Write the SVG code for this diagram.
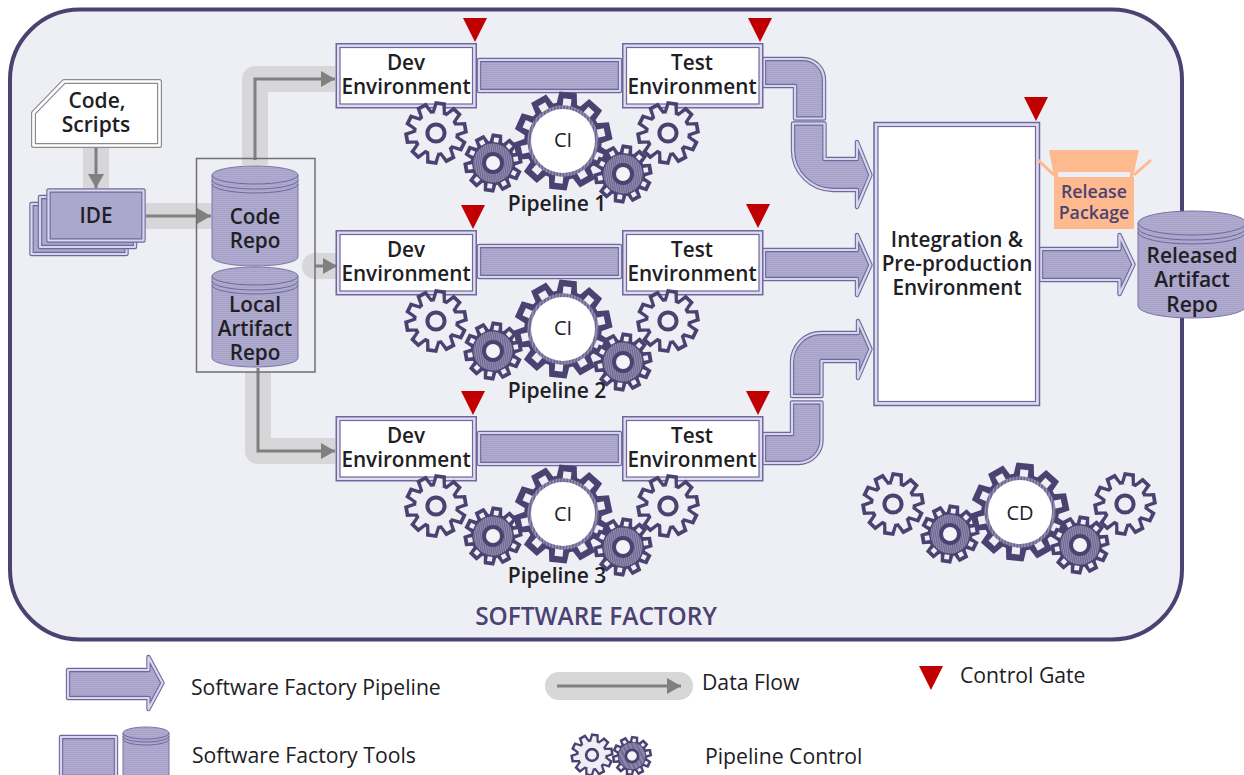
<svg xmlns="http://www.w3.org/2000/svg" xmlns:xlink="http://www.w3.org/1999/xlink" width="1244" height="775" viewBox="0 0 1244 775">
<style>
text{font-family:"Open Sans","Noto Sans","Liberation Sans",sans-serif;text-anchor:middle;dominant-baseline:central;fill:#202024}
.b{font-weight:600;font-size:20.7px}
.p{font-weight:600;font-size:21px}
.c{font-weight:500;font-size:20px}
.r{font-weight:600;font-size:17.8px;fill:#4a4270}
.lg{font-size:21.2px;text-anchor:start;font-weight:400}
.pur{fill:#4a4270}
.f{fill:url(#h)}
.d{fill:none;stroke:#6e689e;stroke-width:4.4;stroke-linejoin:round}
.l{fill:none;stroke:#d8d6ea;stroke-width:2.2;stroke-linejoin:round}
.band{fill:none;stroke:#d7d7d9;stroke-width:26;stroke-linejoin:round}
.flow{fill:none;stroke:#808080;stroke-width:3;marker-end:url(#ah)}
.tri{fill:#c00000}
.cyl{fill:url(#h);stroke:#7b75a6;stroke-width:1}
.cl{fill:none;stroke:#6e689e;stroke-width:1}
.o{fill:#dedcee;stroke:#6e689e;stroke-width:1.5}
.i{fill:#fff;stroke:#6e689e;stroke-width:1.2}
</style>
<defs>
<pattern id="h" width="4" height="2" patternUnits="userSpaceOnUse"><rect width="4" height="2" fill="#b0abcf"/><rect width="4" height="1" fill="#a7a2c8"/></pattern>
<pattern id="v" width="2" height="4" patternUnits="userSpaceOnUse"><rect width="2" height="4" fill="#938db0"/><rect width="1" height="4" fill="#6c658f"/></pattern>
<marker id="ah" markerUnits="userSpaceOnUse" markerWidth="15" markerHeight="16" refX="14" refY="8" orient="auto"><path d="M0 0L14 8L0 16Z" fill="#808080"/></marker>
<path id="tri" class="tri" d="M0 0H24L12 24Z"/>
<g id="to"><path id="to1" d="M-7 -21L-5.600 -31.500H5.600L7 -21Z"/><use href="#to1" transform="rotate(36)"/><use href="#to1" transform="rotate(72)"/><use href="#to1" transform="rotate(108)"/><use href="#to1" transform="rotate(144)"/><use href="#to1" transform="rotate(180)"/><use href="#to1" transform="rotate(216)"/><use href="#to1" transform="rotate(252)"/><use href="#to1" transform="rotate(288)"/><use href="#to1" transform="rotate(324)"/></g>
<g id="ti"><path id="ti1" d="M-4.200 -19L-2.600 -27.800H2.600L4.200 -19Z"/><use href="#ti1" transform="rotate(36)"/><use href="#ti1" transform="rotate(72)"/><use href="#ti1" transform="rotate(108)"/><use href="#ti1" transform="rotate(144)"/><use href="#ti1" transform="rotate(180)"/><use href="#ti1" transform="rotate(216)"/><use href="#ti1" transform="rotate(252)"/><use href="#ti1" transform="rotate(288)"/><use href="#ti1" transform="rotate(324)"/></g>
<g id="ts"><path id="ts1" d="M-2.600 -27.400H2.600V-22.400H-2.600Z"/><use href="#ts1" transform="rotate(36)"/><use href="#ts1" transform="rotate(72)"/><use href="#ts1" transform="rotate(108)"/><use href="#ts1" transform="rotate(144)"/><use href="#ts1" transform="rotate(180)"/><use href="#ts1" transform="rotate(216)"/><use href="#ts1" transform="rotate(252)"/><use href="#ts1" transform="rotate(288)"/><use href="#ts1" transform="rotate(324)"/></g>
<g id="gO"><g transform="rotate(8)"><use href="#to" fill="#4a4270"/><circle r="23.500" fill="#4a4270"/><use href="#ti" fill="#eeeef5"/><circle r="19.800" fill="#eeeef5"/></g><circle r="8.600" fill="#eeeef5" stroke="#4a4270" stroke-width="4"/></g>
<g id="gF"><g transform="rotate(8) scale(.93)"><use href="#to" fill="#4a4270"/><circle r="24" fill="#4a4270"/><use href="#ts" fill="#eeeef5"/><circle r="21" fill="url(#v)"/></g><circle r="9" fill="#f4f4f8" stroke="#4a4270" stroke-width="4"/></g>
<g id="gB"><g transform="rotate(6) scale(1.550)"><use href="#to" fill="#4a4270"/><circle r="25" fill="#4a4270"/><use href="#ts" fill="#eeeef5"/><circle r="23" fill="url(#v)"/></g><circle r="32" fill="#fff"/></g>
<g id="cluster"><use href="#gO" x="-127" y="-8"/><use href="#gO" x="105" y="-8"/><use href="#gB"/><use href="#gF" x="-70" y="22"/><use href="#gF" x="60" y="33"/></g>
<g id="box"><rect class="o" x="0.750" y="0.750" width="140" height="64"/><rect class="i" x="4.500" y="4.500" width="132.500" height="56.500"/></g>
<g id="pipe"><path class="f" d="M479 60H620V91H479Z"/><path class="d" d="M479 60H620V91H479Z"/><path class="l" d="M479 60H620V91H479Z"/></g>
<g id="cy"><path class="cyl" d="M0 9A43 9 0 0 1 86 9V91A43 9 0 0 1 0 91Z"/><path class="cl" d="M0 9A43 9 0 0 0 86 9M0 14A43 9 0 0 0 86 14M0 18A43 9 0 0 0 86 18"/></g>
<g id="card"><rect class="f" width="95" height="50"/><rect class="d" width="95" height="50"/><rect class="l" width="95" height="50"/></g>
</defs>

<rect id="background" width="1244" height="775" fill="#fff"/>
<rect id="factory" x="10" y="9.500" width="1172" height="630" rx="70" fill="#eeeef5" stroke="#4a4270" stroke-width="4"/>
<text class="pur" x="596" y="615.500" style="font-weight:600;font-size:24.400px">SOFTWARE FACTORY</text>

<g id="connectors">
<path class="band" d="M96 148V188"/>
<path class="band" d="M145 216H212"/>
<path class="band" d="M255 165V79H335"/>
<path class="band" stroke-linecap="round" d="M315 266H335"/>
<path class="band" d="M258 372V451H335"/>
<path class="flow" d="M96 146V188"/>
<path class="flow" d="M146 216H211"/>
<path class="flow" d="M255 160V79H335"/>
<path class="flow" d="M315 266H337"/>
<path class="flow" d="M258 368V451H335"/>
<use href="#pipe"/>
<use href="#pipe" y="186"/>
<use href="#pipe" y="373"/>
<g id="arrow-row1-a"><path class="f" d="M764 59H803A21 21 0 0 1 824 80V118.500H795V86H764Z"/><path class="d" d="M764 59H803A21 21 0 0 1 824 80V118.500H795V86H764Z"/><path class="l" d="M764 59H803A21 21 0 0 1 824 80V118.500H795V86H764Z"/></g>
<g id="arrow-row1-b"><path class="f" d="M793 123.500H824.500V159H857V142L870.500 175L857 207V190H833A40 40 0 0 1 793 150Z"/><path class="d" d="M793 123.500H824.500V159H857V142L870.500 175L857 207V190H833A40 40 0 0 1 793 150Z"/><path class="l" d="M793 123.500H824.500V159H857V142L870.500 175L857 207V190H833A40 40 0 0 1 793 150Z"/></g>
<g id="arrow-row2"><path class="f" d="M764 250H857V235L870.500 265L857 295V279H764Z"/><path class="d" d="M764 250H857V235L870.500 265L857 295V279H764Z"/><path class="l" d="M764 250H857V235L870.500 265L857 295V279H764Z"/></g>
<g id="arrow-row3-a"><path class="f" d="M764 434H792V402.500H821.500V440A23 23 0 0 1 798.500 463H764Z"/><path class="d" d="M764 434H792V402.500H821.500V440A23 23 0 0 1 798.500 463H764Z"/><path class="l" d="M764 434H792V402.500H821.500V440A23 23 0 0 1 798.500 463H764Z"/></g>
<g id="arrow-row3-b"><path class="f" d="M792 396V362A29 29 0 0 1 821 333H858V321L870.500 349L858 378V361H821.500V396Z"/><path class="d" d="M792 396V362A29 29 0 0 1 821 333H858V321L870.500 349L858 378V361H821.500V396Z"/><path class="l" d="M792 396V362A29 29 0 0 1 821 333H858V321L870.500 349L858 378V361H821.500V396Z"/></g>
<g id="arrow-release"><path class="f" d="M1041 249H1119.500V235L1133.500 264.500L1119.500 294V280H1041Z"/><path class="d" d="M1041 249H1119.500V235L1133.500 264.500L1119.500 294V280H1041Z"/><path class="l" d="M1041 249H1119.500V235L1133.500 264.500L1119.500 294V280H1041Z"/></g>
</g>

<g id="code-scripts"><path d="M33.500 113L64 81.500H159.500V145.500H33.500Z" fill="#fff" stroke="#8b8b8b" stroke-width="5" stroke-linejoin="round"/><path d="M33.500 113L64 81.500H159.500V145.500H33.500Z" fill="none" stroke="#fff" stroke-width="2.600" stroke-linejoin="round"/><text class="p" y="99.500"><tspan x="97">Code,</tspan><tspan x="96" dy="24">Scripts</tspan></text></g>
<g id="ide"><use href="#card" x="31.500" y="204"/><use href="#card" x="40" y="197"/><use href="#card" x="48.500" y="190.500"/><text class="b" x="96" y="214.500">IDE</text></g>
<g id="repos"><rect x="196.500" y="158.500" width="118.500" height="213.500" fill="none" stroke="#707070" stroke-width="1.500"/></g>
<g id="code-repo"><use href="#cy" x="212" y="166"/><text class="b" y="215.500"><tspan x="255">Code</tspan><tspan x="255" dy="24">Repo</tspan></text></g>
<g id="local-repo"><use href="#cy" x="212" y="267"/><text class="b" y="303.500"><tspan x="255">Local</tspan><tspan x="255" dy="24">Artifact</tspan><tspan x="255" dy="24">Repo</tspan></text></g>

<g id="dev1"><use href="#box" x="335.500" y="43"/><text class="b" y="61.500"><tspan x="406">Dev</tspan><tspan x="406" dy="24">Environment</tspan></text></g>
<g id="test1"><use href="#box" x="622" y="43"/><text class="b" y="61.500"><tspan x="692">Test</tspan><tspan x="692" dy="24">Environment</tspan></text></g>
<g id="dev2"><use href="#box" x="335.500" y="230"/><text class="b" y="248.500"><tspan x="406">Dev</tspan><tspan x="406" dy="24">Environment</tspan></text></g>
<g id="test2"><use href="#box" x="622" y="230"/><text class="b" y="248.500"><tspan x="692">Test</tspan><tspan x="692" dy="24">Environment</tspan></text></g>
<g id="dev3"><use href="#box" x="335.500" y="416"/><text class="b" y="434.500"><tspan x="406">Dev</tspan><tspan x="406" dy="24">Environment</tspan></text></g>
<g id="test3"><use href="#box" x="622" y="416"/><text class="b" y="434.500"><tspan x="692">Test</tspan><tspan x="692" dy="24">Environment</tspan></text></g>

<g id="integration"><rect class="o" x="874" y="122.500" width="165.500" height="283"/><rect class="i" x="878" y="126.500" width="157.500" height="275"/><text class="b" y="238.500"><tspan x="957">Integration &amp;</tspan><tspan x="957" dy="24">Pre-production</tspan><tspan x="957" dy="24">Environment</tspan></text></g>

<g id="gates"><use href="#tri" x="463" y="18"/><use href="#tri" x="748" y="18"/><use href="#tri" x="461" y="205"/><use href="#tri" x="746" y="204"/><use href="#tri" x="461" y="391"/><use href="#tri" x="746" y="391"/><use href="#tri" x="1024" y="97"/></g>

<g id="ci1"><use href="#cluster" x="563" y="141"/><text class="c" x="563" y="139">CI</text><text class="p" x="557" y="202.500">Pipeline 1</text></g>
<g id="ci2"><use href="#cluster" x="563" y="329"/><text class="c" x="563" y="327">CI</text><text class="p" x="557" y="389.500">Pipeline 2</text></g>
<g id="ci3"><use href="#cluster" x="563" y="514"/><text class="c" x="563" y="513">CI</text><text class="p" x="557" y="574.500">Pipeline 3</text></g>
<g id="cd"><use href="#cluster" x="1020" y="512"/><text class="c" x="1020" y="512">CD</text></g>

<g id="release-package"><path d="M1049 150H1139L1133 177H1054Z" fill="#ffb98f"/><rect x="1054" y="177" width="80" height="52" fill="#ffb98f"/><rect x="1058" y="172" width="72" height="5" fill="#eeeef5"/><path d="M1038 160L1054 175M1151 160L1134 175" stroke="#ffb98f" stroke-width="3" fill="none"/><text class="r" y="190.500"><tspan x="1094">Release</tspan><tspan x="1094" dy="21">Package</tspan></text></g>

<g id="released-repo"><path class="cyl" d="M1138 223A54 12 0 0 1 1246 223V306A54 12 0 0 1 1138 306Z"/><path class="cl" d="M1138 223A54 12 0 0 0 1246 223M1138 228A54 12 0 0 0 1246 228M1138 232A54 12 0 0 0 1246 232"/><text class="b" y="254.500" style="font-size:21px"><tspan x="1192">Released</tspan><tspan x="1192" dy="24.500">Artifact</tspan><tspan x="1192" dy="24.500">Repo</tspan></text></g>

<g id="legend">
<g id="legend-pipeline"><path class="f" d="M68 670H148.500V657L162.500 683L148.500 709V698H68Z"/><path class="d" d="M68 670H148.500V657L162.500 683L148.500 709V698H68Z"/><path class="l" d="M68 670H148.500V657L162.500 683L148.500 709V698H68Z"/><text class="lg" x="191" y="686.500">Software Factory Pipeline</text></g>
<g id="legend-tools"><rect class="f" x="61" y="737" width="55" height="40"/><rect class="d" x="61" y="737" width="55" height="40"/><rect class="l" x="61" y="737" width="55" height="40"/><path class="cyl" d="M123 733A23 6 0 0 1 169 733V780H123Z"/><path class="cl" d="M123 733A23 6 0 0 0 169 733M123 736A23 6 0 0 0 169 736M123 739A23 6 0 0 0 169 739"/><text class="lg" x="192" y="754.500">Software Factory Tools</text></g>
<g id="legend-flow"><rect x="545" y="672" width="148" height="28" rx="14" fill="#d7d7d9"/><path class="flow" d="M557 686H681"/><text class="lg" x="702" y="681.500">Data Flow</text></g>
<g id="legend-gears"><use href="#gO" transform="translate(592 755) scale(.68)"/><use href="#gF" transform="translate(632 756) scale(.68)"/><text class="lg" x="705" y="755.500">Pipeline Control</text></g>
<g id="legend-gate"><use href="#tri" x="919" y="666"/><text class="lg" x="960" y="674.500">Control Gate</text></g>
</g>
</svg>
